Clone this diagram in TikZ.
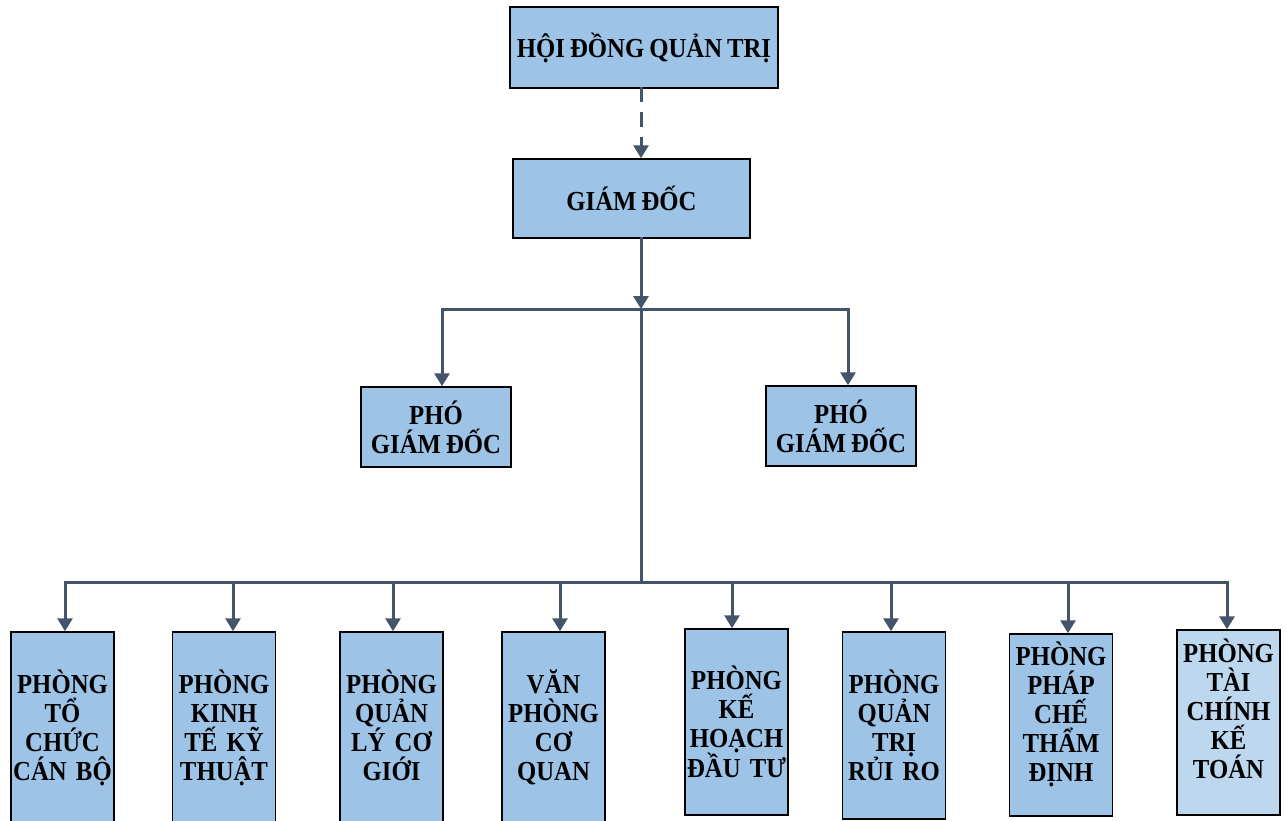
\documentclass[tikz,border=0pt]{standalone}
\usepackage{fontspec}
\setmainfont{Liberation Serif}[FakeStretch=0.9, WordSpace=0.75]
\usepackage{xcolor}
\usetikzlibrary{arrows.meta}
\definecolor{hopxanh}{HTML}{9DC3E6}
\definecolor{hopnhat}{HTML}{BDD7EE}
\definecolor{duongnoi}{HTML}{44546A}
\newcommand{\chuhop}{\fontsize{27.5}{29}\selectfont\bfseries\spaceskip=5pt\relax}
\tikzstyle{hop} = [rectangle, draw=black, line width=1.5pt, fill=hopxanh,
inner sep=0pt, align=center, font=\chuhop]
\tikzstyle{phong} = [hop, text width=103pt, text height=25pt]
\tikzstyle{noi} = [line width=3pt, draw=duongnoi, line cap=rect]
\tikzstyle{muiten} = [noi, -{Triangle[width=15pt,length=13pt]}]

\begin{document}
\begin{tikzpicture}[x=1pt, y=-1pt]
        \useasboundingbox (0,0) rectangle (1287,820);

        % Cap tren
        \node[hop, minimum width=268pt, minimum height=81pt] (hdqt) at (644,47.5) {HỘI ĐỒNG QUẢN TRỊ};
        \node[hop, minimum width=237pt, minimum height=79pt] (gd) at (631.5,198.5) {GIÁM ĐỐC};
        \node[hop, minimum width=150pt, minimum height=80pt] (pgdtrai) at (436,427) {PHÓ\\GIÁM ĐỐC};
        \node[hop, minimum width=150pt, minimum height=80pt] (pgdphai) at (841,426) {PHÓ\\GIÁM ĐỐC};

        % Cac phong ban
        \node[phong, minimum height=192pt, text depth=95pt] (phong1) at (62.5,728) {PHÒNG\\TỔ\\CHỨC\\CÁN BỘ};
        \node[phong, minimum height=192pt, text depth=95pt] (phong2) at (224,728) {PHÒNG\\KINH\\TẾ KỸ\\THUẬT};
        \node[phong, minimum height=192pt, text depth=95pt] (phong3) at (391.5,728) {PHÒNG\\QUẢN\\LÝ CƠ\\GIỚI};
        \node[phong, minimum height=192pt, text depth=95pt] (phong4) at (553.5,728) {VĂN\\PHÒNG\\CƠ\\QUAN};
        \node[phong, minimum height=186pt, text depth=91pt] (phong5) at (736.5,722) {PHÒNG\\KẾ\\HOẠCH\\ĐẦU TƯ};
        \node[phong, minimum height=187pt, text depth=90pt] (phong6) at (894,725.5) {PHÒNG\\QUẢN\\TRỊ\\RỦI RO};
        \node[phong, minimum height=182pt, text depth=145pt] (phong7) at (1061,725) {PHÒNG\\PHÁP\\CHẾ\\THẨM\\ĐỊNH};
        \node[phong, fill=hopnhat, minimum height=185pt, text depth=146pt] (phong8) at (1228.5,722.5) {PHÒNG\\TÀI\\CHÍNH\\KẾ\\TOÁN};

        % Diem re nhanh
        \coordinate (truc) at (641,309);
        \coordinate (thanh) at (641,582);

        % Duong noi
        \draw[muiten, dash pattern=on 12pt off 13pt] (hdqt.south -| truc) -- (gd.north -| truc);
        \draw[muiten] (gd.south -| truc) -- (truc);
        \draw[muiten] (truc) -| ([xshift=6pt]pgdtrai.north);
        \draw[muiten] (truc) -| ([xshift=7pt]pgdphai.north);
        \draw[noi] (truc) -- (thanh);
        \draw[noi] ([xshift=2.5pt]phong1.north |- thanh) -- ([xshift=-1.5pt]phong8.north |- thanh);
        \foreach \ten/\dx in {phong1/2.5, phong2/9, phong3/1.5, phong4/6.5, phong5/-4.5, phong6/-3, phong7/7, phong8/-1.5}
            \draw[muiten] ([xshift=\dx pt]\ten.north |- thanh) -- ([xshift=\dx pt]\ten.north);

    \end{tikzpicture}
\end{document}
